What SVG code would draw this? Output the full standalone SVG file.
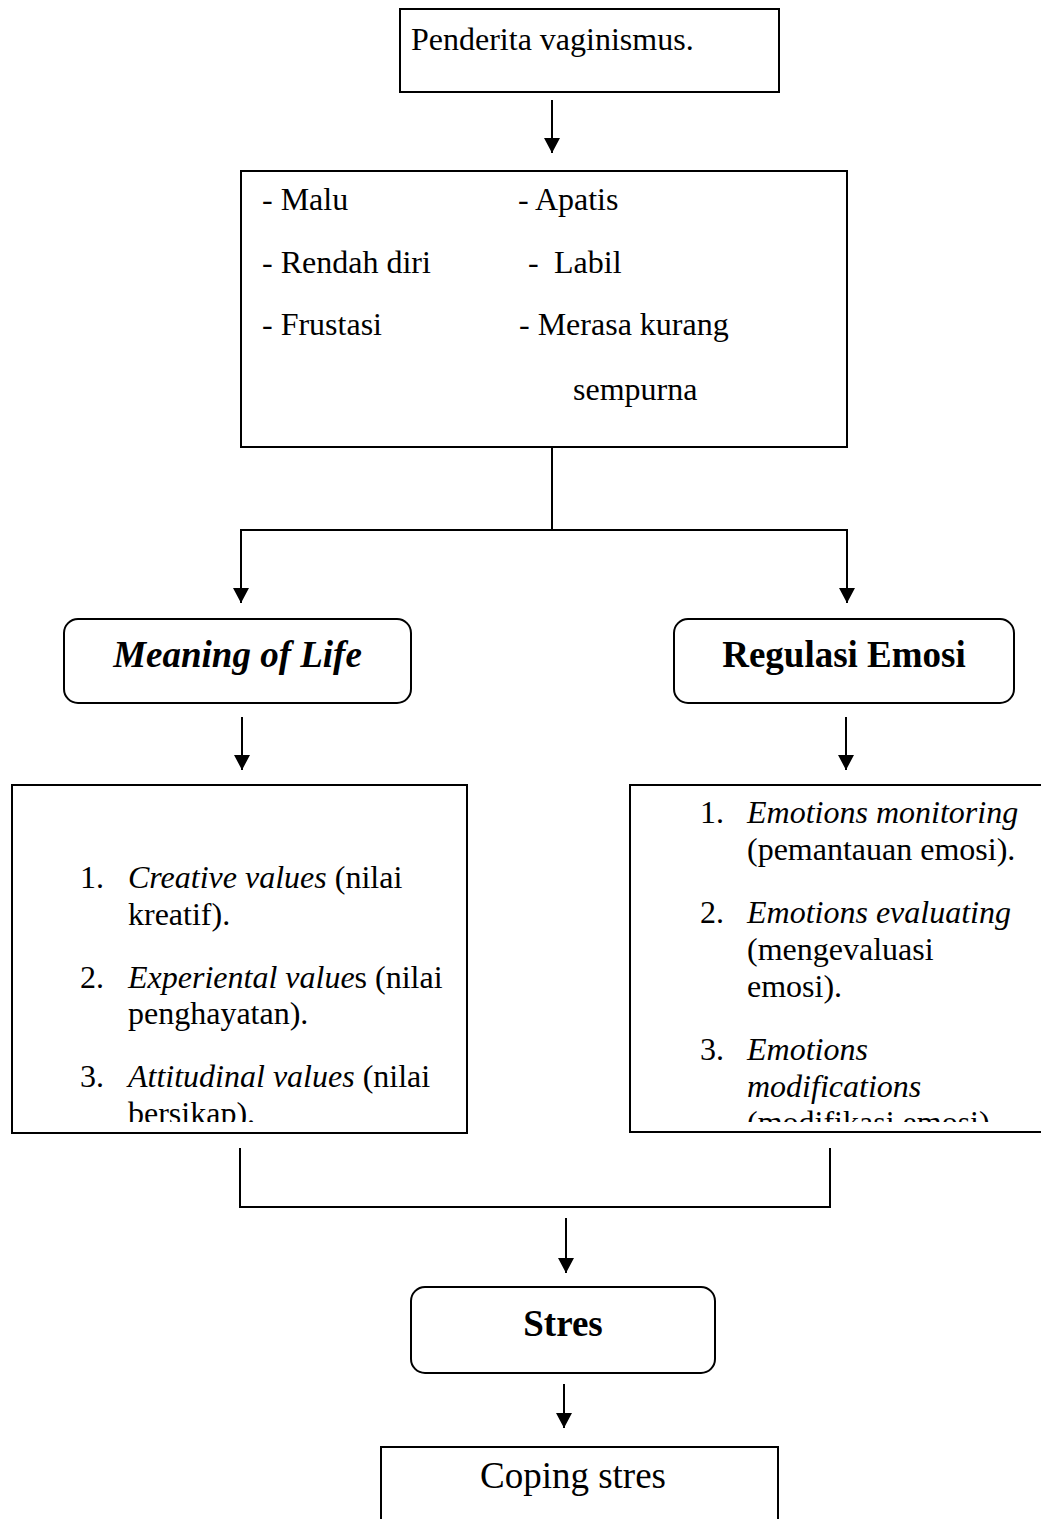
<svg xmlns="http://www.w3.org/2000/svg" width="1041" height="1519" viewBox="0 0 1041 1519">
<style>
  .box { fill: #ffffff; stroke: #000000; stroke-width: 2; }
  .con { fill: none; stroke: #000000; stroke-width: 2; }
  .t { font-family: "Liberation Serif", "Times New Roman", serif; font-size: 32px; fill: #000000; }
  .h { font-family: "Liberation Serif", "Times New Roman", serif; font-size: 37px; font-weight: bold; fill: #000000; }
  .i { font-style: italic; }
</style>
<defs>
  <marker id="arr" markerUnits="userSpaceOnUse" markerWidth="16" markerHeight="16" viewBox="0 0 15 16" refX="15" refY="8" orient="auto">
    <path d="M0,0 L15,8 L0,16 z" fill="#000000"/>
  </marker>
  <clipPath id="clipL"><rect x="12" y="786" width="455" height="336"/></clipPath>
  <clipPath id="clipR"><rect x="630" y="786" width="420" height="336"/></clipPath>
</defs>
<rect width="1041" height="1519" fill="#ffffff"/>

<g id="connectors">
  <path class="con" d="M552,100 V153" marker-end="url(#arr)"/>
  <path class="con" d="M552,447 V530 H241 V603" marker-end="url(#arr)"/>
  <path class="con" d="M552,530 H847 V603" marker-end="url(#arr)"/>
  <path class="con" d="M242,717 V770" marker-end="url(#arr)"/>
  <path class="con" d="M846,717 V770" marker-end="url(#arr)"/>
  <path class="con" d="M240,1148 V1207 H830 V1148"/>
  <path class="con" d="M566,1218 V1273" marker-end="url(#arr)"/>
  <path class="con" d="M564,1384 V1428" marker-end="url(#arr)"/>
</g>

<g id="node-penderita">
  <rect class="box" x="400" y="9" width="379" height="83"/>
  <text class="t" x="411" y="50">Penderita vaginismus.</text>
</g>

<g id="node-gejala">
  <rect class="box" x="241" y="171" width="606" height="276"/>
  <text class="t" x="262" y="210">- Malu</text>
  <text class="t" x="262" y="273">- Rendah diri</text>
  <text class="t" x="262" y="335">- Frustasi</text>
  <text class="t" x="518" y="210">- Apatis</text>
  <text class="t" x="528" y="273">-</text>
  <text class="t" x="554" y="273">Labil</text>
  <text class="t" x="519" y="335">- Merasa kurang</text>
  <text class="t" x="573" y="400">sempurna</text>
</g>

<g id="node-meaning">
  <rect class="box" x="64" y="619" width="347" height="84" rx="14" ry="14"/>
  <text class="h i" x="237.5" y="667" text-anchor="middle">Meaning of Life</text>
</g>

<g id="node-regulasi">
  <rect class="box" x="674" y="619" width="340" height="84" rx="14" ry="14"/>
  <text class="h" x="844" y="667" text-anchor="middle">Regulasi Emosi</text>
</g>

<g id="node-values">
  <rect class="box" x="12" y="785" width="455" height="348"/>
  <g clip-path="url(#clipL)">
    <text class="t" x="80" y="888">1.</text>
    <text class="t" x="128" y="888"><tspan class="i">Creative values</tspan> (nilai</text>
    <text class="t" x="128" y="924.5">kreatif).</text>
    <text class="t" x="80" y="987.5">2.</text>
    <text class="t" x="128" y="987.5"><tspan class="i">Experiental value</tspan>s (nilai</text>
    <text class="t" x="128" y="1024">penghayatan).</text>
    <text class="t" x="80" y="1087">3.</text>
    <text class="t" x="128" y="1087"><tspan class="i">Attitudinal values</tspan> (nilai</text>
    <text class="t" x="128" y="1123.5">bersikap).</text>
  </g>
</g>

<g id="node-emotions">
  <rect class="box" x="630" y="785" width="430" height="347"/>
  <g clip-path="url(#clipR)">
    <text class="t" x="700" y="823">1.</text>
    <text class="t i" x="747" y="823">Emotions monitoring</text>
    <text class="t" x="747" y="860">(pemantauan emosi).</text>
    <text class="t" x="700" y="923">2.</text>
    <text class="t i" x="747" y="923">Emotions evaluating</text>
    <text class="t" x="747" y="960">(mengevaluasi</text>
    <text class="t" x="747" y="996.5">emosi).</text>
    <text class="t" x="700" y="1060">3.</text>
    <text class="t i" x="747" y="1060">Emotions</text>
    <text class="t i" x="747" y="1096.5">modifications</text>
    <text class="t" x="747" y="1133">(modifikasi emosi).</text>
  </g>
</g>

<g id="node-stres">
  <rect class="box" x="411" y="1287" width="304" height="86" rx="14" ry="14"/>
  <text class="h" x="563" y="1336" text-anchor="middle">Stres</text>
</g>

<g id="node-coping">
  <rect class="box" x="381" y="1447" width="397" height="100"/>
  <text class="t" x="573" y="1488" text-anchor="middle" style="font-size:37px">Coping stres</text>
</g>
</svg>
